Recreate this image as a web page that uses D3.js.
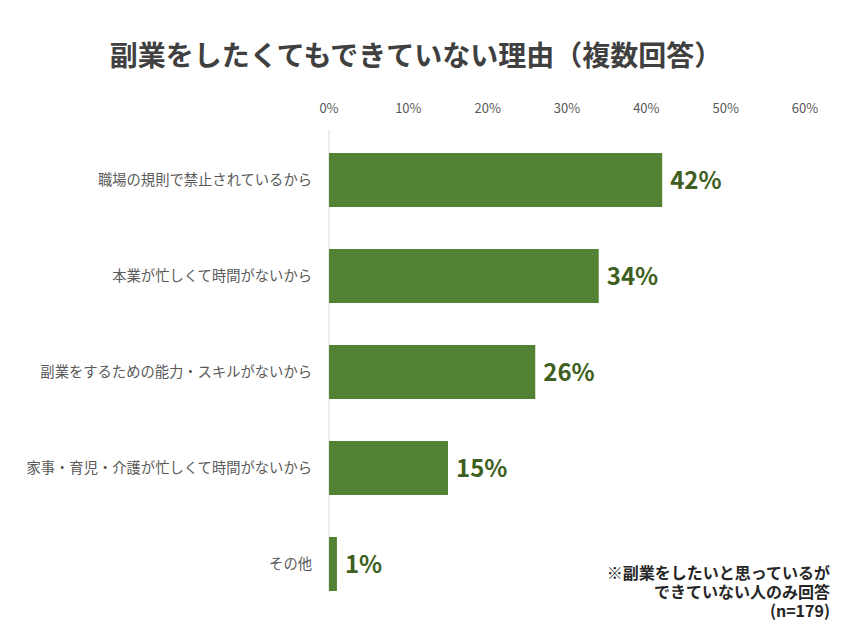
<!DOCTYPE html>
<html><head><meta charset="utf-8">
<script src="https://cdn.jsdelivr.net/npm/d3@7"></script>
<style>body{margin:0;background:#fff;font-family:"Noto Sans CJK JP","Noto Sans",sans-serif;}</style>
</head><body><svg id="c" width="853" height="640"></svg>
<script>
const categories=["職場の規則で禁止されているから","本業が忙しくて時間がないから","副業をするための能力・スキルがないから","家事・育児・介護が忙しくて時間がないから","その他"];
const values=[42,34,26,15,1];
const ticks=[0,10,20,30,40,50,60];
const svg=d3.select("#c");
const x=d3.scaleLinear().domain([0,60]).range([329,805]);
const y=d3.scaleBand().domain(categories).range([130,614]).paddingInner(0.4375).paddingOuter(0.24);
svg.append("text").attr("x",416).attr("y",66).attr("text-anchor","middle").attr("font-size",28).attr("font-weight","bold").attr("fill","#404040").text("副業をしたくてもできていない理由（複数回答）");
svg.append("g").selectAll("text").data(ticks).join("text").attr("x",d=>x(d)).attr("y",113).attr("text-anchor","middle").attr("font-size",13).attr("fill","#595959").text(d=>d+"%");
svg.append("line").attr("x1",x(0)).attr("x2",x(0)).attr("y1",130).attr("y2",592).attr("stroke","#d9d9d9");
svg.append("g").selectAll("rect").data(values).join("rect").attr("x",x(0)).attr("y",(d,i)=>y(categories[i])).attr("width",d=>x(d)-x(0)).attr("height",y.bandwidth()).attr("fill","#548235");
svg.append("g").selectAll("text").data(categories).join("text").attr("x",312).attr("y",d=>y(d)+y.bandwidth()/2+5).attr("text-anchor","end").attr("font-size",14.3).attr("fill","#595959").text(d=>d);
svg.append("g").selectAll("text").data(values).join("text").attr("x",d=>x(d)+8).attr("y",(d,i)=>y(categories[i])+y.bandwidth()/2+9).attr("font-size",24).attr("font-weight","bold").attr("fill","#3f5f22").text(d=>d+"%");
const note=["※副業をしたいと思っているが","できていない人のみ回答","(n=179)"];
svg.append("g").selectAll("text").data(note).join("text").attr("x",830).attr("y",(d,i)=>579+i*19).attr("text-anchor","end").attr("font-size",16).attr("font-weight","bold").attr("fill","#262626").text(d=>d);
</script></body></html>
